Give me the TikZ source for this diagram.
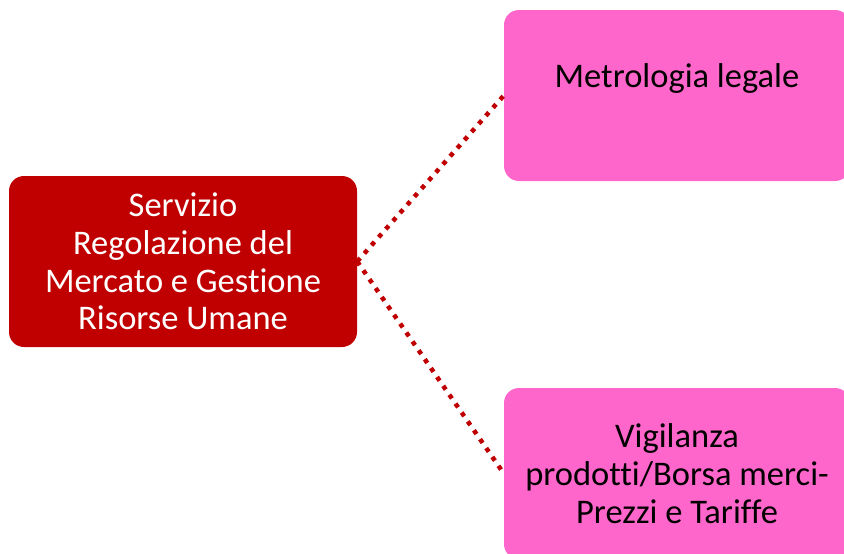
\documentclass[tikz,border=0pt]{standalone}
\usepackage{fontspec}
\setmainfont{Carlito}[Ligatures=CommonOff]
\definecolor{parentred}{HTML}{C00000}
\definecolor{childpink}{HTML}{FF66CC}
\tikzset{
  boxbase/.style={rectangle, rounded corners=15pt, inner sep=0pt, align=center,
    font=\fontsize{34.5}{37.8}\selectfont},
  parentbox/.style={boxbase, fill=parentred, text=white, minimum width=348pt, minimum height=171pt},
  childbox/.style={boxbase, fill=childpink, text=black, minimum width=346pt, minimum height=171pt},
  conn/.style={draw=parentred, line width=4.5pt, dash pattern=on 4.5pt off 6.3pt}
}
\begin{document}
\begin{tikzpicture}[x=1pt,y=-1pt]
\useasboundingbox (0,0) rectangle (844,554);
\clip (0,0) rectangle (844,554);
\node[parentbox] (parent) at (183,261.5) {Servizio\\Regolazione del\\Mercato e Gestione\\Risorse Umane};
\node[childbox] (top) at (677,95.5) {Metrologia legale\\[-10pt]\strut};
\node[childbox] (bottom) at (677,473.5) {Vigilanza\\prodotti/Borsa merci-\\Prezzi e Tariffe};
\draw[conn] (parent.east) -- (top.west);
\draw[conn] (parent.east) -- (bottom.west);
\end{tikzpicture}
\end{document}
